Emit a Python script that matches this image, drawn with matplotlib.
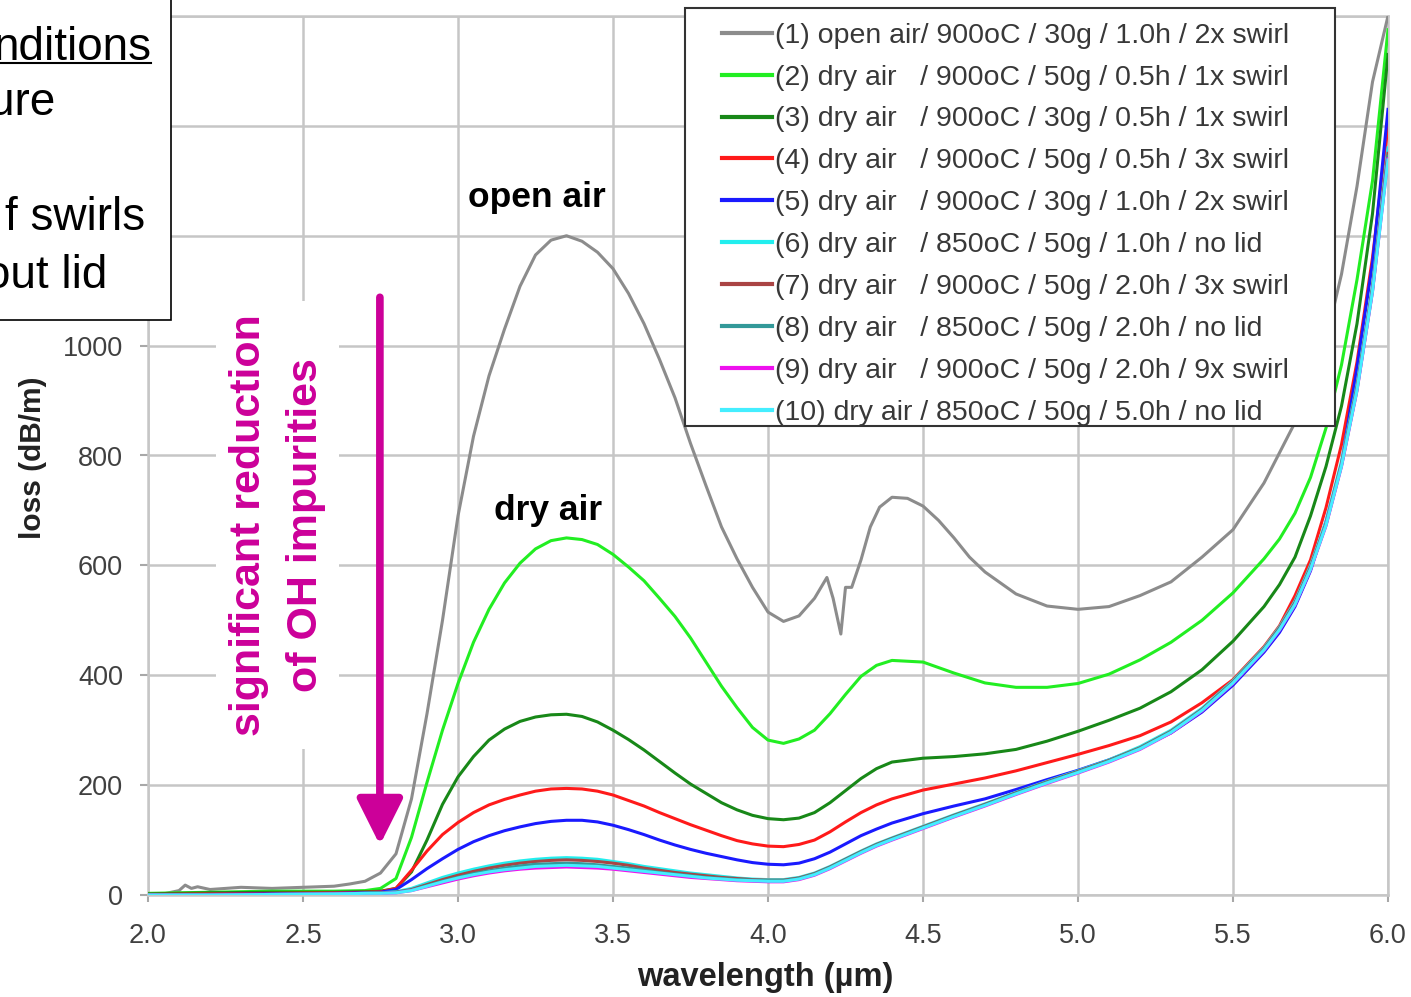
import matplotlib
matplotlib.use("Agg")
import matplotlib.pyplot as plt
from matplotlib.patches import Rectangle
from matplotlib.lines import Line2D

plt.rcParams['font.family'] = ['Liberation Sans', 'DejaVu Sans']

# ---------------- data ----------------
X = [2.0, 2.2, 2.4, 2.6, 2.7, 2.75, 2.8, 2.85, 2.9, 2.95,
     3.0, 3.05, 3.1, 3.15, 3.2, 3.25, 3.3, 3.35, 3.4, 3.45,
     3.5, 3.55, 3.6, 3.65, 3.7, 3.75, 3.8, 3.85, 3.9, 3.95,
     4.0, 4.05, 4.1, 4.15, 4.2, 4.25, 4.3, 4.35, 4.4, 4.5,
     4.6, 4.7, 4.8, 4.9, 5.0, 5.1, 5.2, 5.3, 5.4, 5.5,
     5.6, 5.65, 5.7, 5.75, 5.8, 5.85, 5.9, 5.95, 6.0]

GX = [2.0, 2.05, 2.1, 2.12, 2.14, 2.16, 2.2, 2.25, 2.3, 2.4,
      2.5, 2.6, 2.65, 2.7, 2.75, 2.8, 2.85, 2.9, 2.95, 3.0,
      3.05, 3.1, 3.15, 3.2, 3.25, 3.3, 3.35, 3.4, 3.45, 3.5,
      3.55, 3.6, 3.65, 3.7, 3.75, 3.8, 3.85, 3.9, 3.95, 4.0,
      4.05, 4.1, 4.15, 4.19, 4.21, 4.235, 4.25, 4.27, 4.3, 4.33,
      4.36, 4.4, 4.45, 4.5, 4.55, 4.6, 4.65, 4.7, 4.8, 4.9,
      5.0, 5.1, 5.2, 5.3, 5.4, 5.5, 5.6, 5.7, 5.75, 5.8,
      5.85, 5.9, 5.95, 6.0]
S1 = [0, 2, 8, 18, 12, 15, 10, 12, 14, 12,
      14, 16, 20, 25, 40, 75, 175, 330, 500, 690,
      835, 945, 1030, 1108, 1165, 1192, 1200, 1190, 1170, 1140,
      1095, 1040, 975, 905, 822, 745, 670, 612, 560, 515,
      498, 508, 540, 578, 540, 475, 560, 560, 610, 670,
      706, 724, 722, 708, 682, 650, 615, 588, 548, 526,
      520, 525, 545, 570, 615, 665, 750, 860, 930, 1010,
      1130, 1290, 1480, 1600]

S2 = [3, 5, 7, 7, 8, 12, 30, 105, 205, 300,
      385, 460, 520, 568, 604, 630, 645, 650, 647, 638,
      620, 597, 572, 540, 507, 468, 424, 380, 341, 305,
      282, 276, 284, 300, 330, 365, 398, 418, 427, 424,
      404, 386, 378, 378, 385, 402, 428, 460, 500, 550,
      612, 648, 695, 760, 850, 965, 1120, 1300, 1575]
S3 = [2, 4, 5, 5, 6, 7, 12, 42, 100, 165,
      215, 252, 282, 302, 316, 324, 328, 329, 325, 315,
      300, 283, 264, 243, 222, 202, 185, 168, 155, 145,
      139, 137, 140, 150, 168, 190, 212, 230, 242, 249,
      252, 257, 265, 280, 298, 318, 340, 370, 410, 462,
      525, 565, 615, 690, 780, 890, 1040, 1240, 1530]
S4 = [1, 2, 3, 4, 5, 6, 12, 45, 80, 110,
      132, 150, 164, 174, 182, 189, 193, 194, 193, 189,
      182, 172, 162, 150, 139, 128, 118, 108, 99, 93,
      89, 88, 92, 100, 115, 133, 150, 164, 175, 191,
      202, 213, 226, 241, 256, 272, 290, 315, 350, 392,
      452, 490, 545, 610, 705, 820, 970, 1160, 1400]
S5 = [0, 1, 2, 3, 4, 5, 10, 28, 48, 66,
      83, 97, 108, 117, 124, 130, 134, 136, 136, 133,
      127, 119, 110, 100, 91, 83, 76, 70, 64, 59,
      56, 55, 58, 66, 78, 93, 108, 120, 131, 148,
      162, 175, 192, 210, 227, 246, 268, 295, 333, 382,
      442, 478, 525, 590, 680, 785, 960, 1150, 1430]
S6 = [0, 0, 1, 2, 3, 4, 6, 12, 22, 32,
      40, 47, 53, 58, 62, 65, 67, 68, 67, 65,
      61, 57, 52, 48, 44, 40, 37, 34, 31, 29,
      28, 28, 32, 40, 52, 66, 80, 93, 104, 125,
      146, 166, 187, 207, 226, 246, 270, 300, 340, 390,
      450, 488, 535, 600, 680, 790, 930, 1110, 1360]
S7 = [0, 0, 1, 2, 3, 4, 5, 10, 19, 28,
      36, 43, 49, 54, 58, 61, 63, 64, 63, 61,
      58, 54, 49, 45, 41, 38, 35, 32, 30, 28,
      27, 27, 31, 39, 51, 65, 79, 92, 103, 124,
      145, 165, 186, 206, 225, 245, 268, 298, 338, 388,
      448, 486, 532, 596, 676, 785, 925, 1105, 1350]
S8 = [0, 0, 1, 2, 3, 4, 5, 9, 17, 25,
      32, 39, 44, 49, 53, 56, 57, 58, 57, 55,
      52, 49, 45, 41, 38, 35, 32, 30, 28, 27,
      26, 26, 30, 38, 50, 64, 78, 91, 102, 123,
      144, 164, 185, 205, 224, 244, 267, 297, 337, 387,
      447, 484, 530, 594, 674, 782, 920, 1100, 1345]
S9 = [0, 0, 1, 2, 2, 3, 4, 8, 15, 22,
      29, 35, 40, 44, 47, 49, 50, 51, 50, 49,
      47, 44, 41, 38, 35, 32, 30, 28, 26, 25,
      24, 24, 28, 36, 48, 62, 76, 89, 100, 121,
      142, 162, 183, 203, 222, 242, 265, 295, 335, 385,
      445, 482, 528, 592, 672, 780, 918, 1098, 1340]
S10 = [0, 0, 1, 2, 3, 3, 4, 8, 16, 24,
       31, 37, 42, 46, 49, 52, 53, 54, 53, 52,
       49, 46, 43, 40, 37, 34, 31, 29, 27, 26,
       25, 25, 29, 37, 49, 63, 77, 90, 101, 122,
       143, 163, 184, 204, 223, 243, 266, 296, 336, 386,
       446, 483, 529, 593, 673, 781, 919, 1099, 1338]

LABELS = [
    "(1) open air/ 900oC / 30g / 1.0h / 2x swirl",
    "(2) dry air   / 900oC / 50g / 0.5h / 1x swirl",
    "(3) dry air   / 900oC / 30g / 0.5h / 1x swirl",
    "(4) dry air   / 900oC / 50g / 0.5h / 3x swirl",
    "(5) dry air   / 900oC / 30g / 1.0h / 2x swirl",
    "(6) dry air   / 850oC / 50g / 1.0h / no lid",
    "(7) dry air   / 900oC / 50g / 2.0h / 3x swirl",
    "(8) dry air   / 850oC / 50g / 2.0h / no lid",
    "(9) dry air   / 900oC / 50g / 2.0h / 9x swirl",
    "(10) dry air / 850oC / 50g / 5.0h / no lid",
]
COLORS = ['#8c8c8c', '#22ee22', '#188818', '#ff1a1a', '#1a1aff',
          '#22eeee', '#aa4444', '#339999', '#ee11ee', '#44eeff']
XTICKS = [2.0, 2.5, 3.0, 3.5, 4.0, 4.5, 5.0, 5.5, 6.0]
YTICKS = [0, 200, 400, 600, 800, 1000, 1200, 1400, 1600]
YTICKLABELS = ["0", "200", "400", "600", "800", "1000", "", "", ""]

# ---------------- figure ----------------
W, H = 1411, 997
fig = plt.figure(figsize=(W / 100, H / 100), dpi=100)
ax = fig.add_axes([148 / W, 102 / H, 1240 / W, 879 / H])

series = [(GX, S1), (X, S2), (X, S3), (X, S4), (X, S5),
          (X, S6), (X, S7), (X, S8), (X, S9), (X, S10)]
handles = []
for (xs, ys), c, lab in zip(series, COLORS, LABELS):
    ln, = ax.plot(xs, ys, color=c, lw=2.2, label=lab, zorder=3,
                  solid_joinstyle='round')
    handles.append(ln)

ax.set_xlim(2.0, 6.0)
ax.set_ylim(0, 1600)
ax.set_xticks(XTICKS)
ax.set_xticklabels([f"{v:.1f}" for v in XTICKS])
ax.set_yticks(YTICKS)
ax.set_yticklabels(YTICKLABELS)
ax.grid(True, color='#c6c6c6', lw=1.8, zorder=1)
ax.set_axisbelow(True)
for sp in ax.spines.values():
    sp.set_color('#c6c6c6')
    sp.set_linewidth(1.8)
ax.tick_params(axis='both', colors='#a8a8a8', labelcolor='#404040',
               labelsize=19.5, width=1.5)
ax.tick_params(axis='y', length=6, pad=12)
ax.tick_params(axis='x', length=5, pad=15)

ax.set_xlabel("wavelength (µm)", fontsize=23.5, fontweight='bold', color='#222222')
ax.xaxis.set_label_coords(0.498, -0.094)
ax.xaxis.label.set_va('center')
ax.set_ylabel("loss (dB/m)", fontsize=21.5, fontweight='bold', color='#222222')
ax.yaxis.set_label_coords(-0.093, 0.498)
ax.yaxis.label.set_va('center')

# curve annotations
ax.text(3.255, 1269, "open air", fontsize=25.5, fontweight='bold',
        ha='center', va='center', color='black', zorder=6)
ax.text(3.29, 699, "dry air", fontsize=25.5, fontweight='bold',
        ha='center', va='center', color='black', zorder=6)

# magenta note + arrow
MAG = '#cc0099'
ax.text(2.419, 673, "significant reduction\nof OH impurities", rotation=90,
        fontsize=31, fontweight='bold', color=MAG, ha='center', va='center',
        multialignment='center', linespacing=1.55, zorder=6,
        bbox=dict(boxstyle='square,pad=0.3', fc='white', ec='none'))
ax.annotate("", xy=(2.748, 91), xytext=(2.748, 1088),
            arrowprops=dict(arrowstyle='-|>,head_length=1.4,head_width=0.7',
                            mutation_scale=20, lw=5.5, color=MAG,
                            shrinkA=0, shrinkB=0),
            zorder=6)

# legend frame + legend
ax.add_patch(Rectangle((0.4331, 0.5336), 0.9573 - 0.4331, 1.0091 - 0.5336,
                       transform=ax.transAxes, fc='white', ec='#333333',
                       lw=1.5, clip_on=False, zorder=7))
leg = ax.legend(handles=handles, loc='upper left',
                bbox_to_anchor=(0.4629, 0.9925), frameon=False,
                fontsize=20.5, handlelength=1.75, handletextpad=0.12,
                labelspacing=0.56, borderpad=0, borderaxespad=0)
leg.set_zorder(8)
for t in leg.get_texts():
    t.set_color('#383838')
for lh in leg.get_lines():
    lh.set_linewidth(3)

# top-left cut-off box
fig.add_artist(Rectangle((-5 / W, (H - 320) / H), 176 / W, 0.4,
                         transform=fig.transFigure, fc='white', ec='black',
                         lw=1.2, zorder=20))
box_lines = [("nditions", 151, 60), ("ure", 55, 115),
             ("f swirls", 145, 230), ("out lid", 107, 288)]
for s, xr, yb in box_lines:
    fig.text(xr / W, (H - yb) / H, s, fontsize=33, ha='right', va='baseline',
             color='black', zorder=21)
fig.add_artist(Line2D([0, 151 / W], [(H - 63) / H] * 2, transform=fig.transFigure,
                      color='black', lw=1.5, zorder=21))

fig.savefig("out.png", dpi=100)
